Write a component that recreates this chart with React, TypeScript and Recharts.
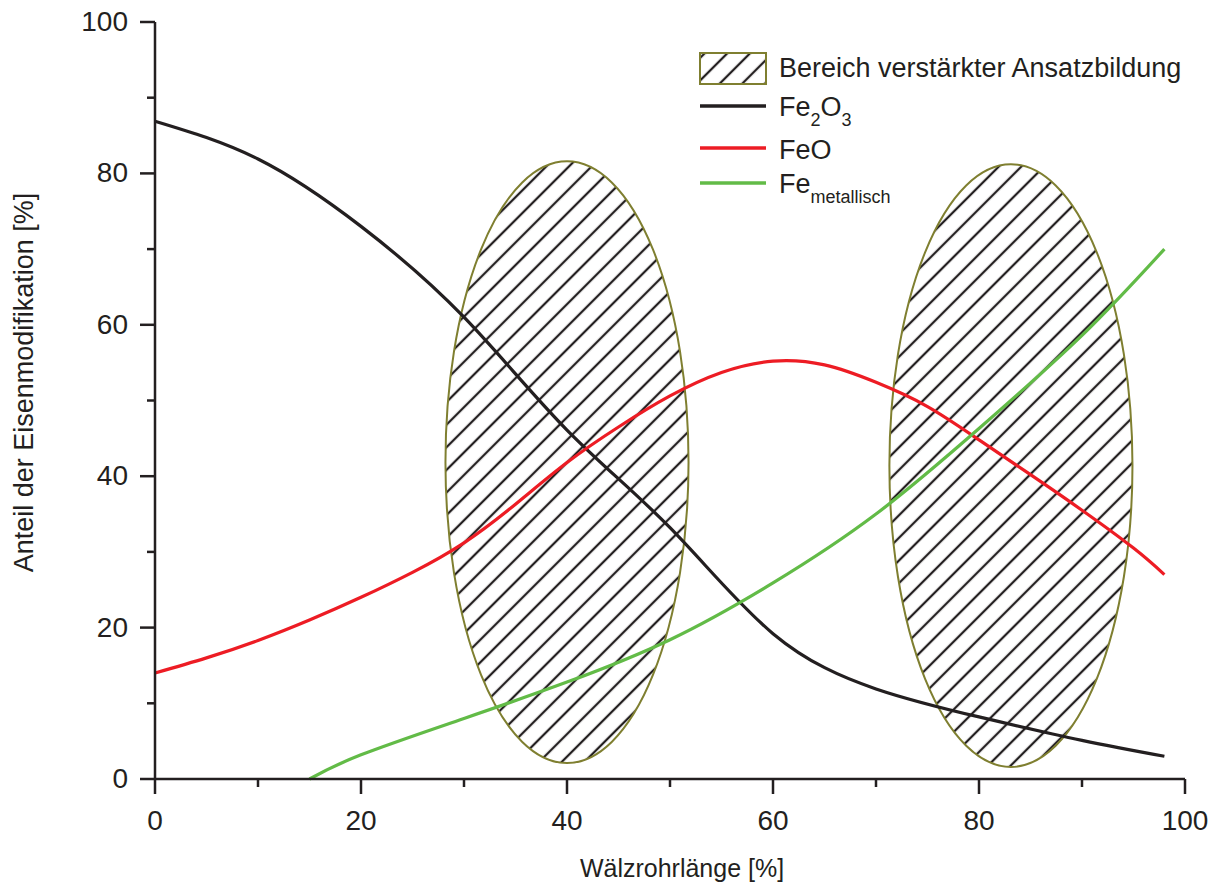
import { Legend, Line, LineChart, ReferenceArea, XAxis, YAxis } from "recharts";

const FONT = '"Liberation Sans", Arial, sans-serif';
const INK = "#231f20";
const OLIVE = "#7f7f30";

const xTicks = [0, 10, 20, 30, 40, 50, 60, 70, 80, 90, 100];
const yTicks = [0, 10, 20, 30, 40, 50, 60, 70, 80, 90, 100];

// Wälzrohrlänge [%]
const oxideLengths = [0, 10, 20, 30, 40, 50, 60, 70, 80, 90, 98];
const fe2o3 = [86.9, 81.9, 73, 61, 46.1, 33.2, 19.2, 11.9, 8.2, 5.1, 3];

const feoLengths = [0, 5, 10, 15, 20, 25, 30, 35, 40, 45, 50, 55, 60, 65, 70, 75, 80, 85, 90, 95, 98];
const feo = [14, 16, 18.3, 21, 24, 27.3, 31.2, 36.3, 41.8, 46.5, 50.6, 53.7, 55.2, 54.7, 52.4, 49.2, 44.8, 40.2, 35.5, 30.5, 27];

const metLengths = [15, 20, 30, 40, 50, 60, 70, 80, 90, 98];
const feMet = [0, 3.2, 8, 12.8, 18.4, 25.9, 35, 46.3, 58.6, 70];

// Bereiche verstärkter Ansatzbildung (in Achsenwerten)
const zones = [
  { id: "a", x1: 28.2, x2: 51.8, y1: 2.1, y2: 81.6 },
  { id: "b", x1: 71.3, x2: 94.9, y1: 1.6, y2: 81.2 },
];

const fe2o3Data = oxideLengths.map((x, i) => ({ x, y: fe2o3[i] }));
const feoData = feoLengths.map((x, i) => ({ x, y: feo[i] }));
const feMetData = metLengths.map((x, i) => ({ x, y: feMet[i] }));

function HatchDefs({ id }: { id: string }) {
  return (
    <defs>
      <pattern id={id} patternUnits="userSpaceOnUse" width={16} height={16} patternTransform="rotate(45)">
        <line x1={8} y1={0} x2={8} y2={16} stroke={INK} strokeWidth={2.3} />
      </pattern>
    </defs>
  );
}

function HatchEllipse(props: any) {
  const { x, y, width, height } = props;
  const pid = `hatch-${props.zoneId}`;
  return (
    <g>
      <HatchDefs id={pid} />
      <ellipse
        cx={x + width / 2}
        cy={y + height / 2}
        rx={width / 2}
        ry={height / 2}
        fill={`url(#${pid})`}
        stroke={OLIVE}
        strokeWidth={2}
      />
    </g>
  );
}

function XTick({ x, y, payload }: any) {
  const major = payload.value % 20 === 0;
  return (
    <g>
      <line x1={x} y1={y} x2={x} y2={y + (major ? 15 : 8)} stroke={INK} strokeWidth={2.5} />
      {major && (
        <text x={x} y={y + 51} textAnchor="middle" fontSize={28} fontFamily={FONT} fill={INK}>
          {payload.value}
        </text>
      )}
    </g>
  );
}

function YTick({ x, y, payload }: any) {
  const major = payload.value % 20 === 0;
  return (
    <g>
      <line x1={x - (major ? 15 : 8)} y1={y} x2={x} y2={y} stroke={INK} strokeWidth={2.5} />
      {major && (
        <text x={x - 27} y={y + 9} textAnchor="end" fontSize={28} fontFamily={FONT} fill={INK}>
          {payload.value}
        </text>
      )}
    </g>
  );
}

function LegendBox() {
  const sub = { fontSize: 18 };
  return (
    <svg width={1218} height={230} style={{ display: "block" }}>
      <HatchDefs id="hatch-legend" />
      <rect x={700} y={53} width={66} height={31} fill="url(#hatch-legend)" stroke={OLIVE} strokeWidth={2} />
      <g fontFamily={FONT} fontSize={27} fill={INK}>
        <text x={779} y={77}>Bereich verstärkter Ansatzbildung</text>
        <text x={779} y={116}>
          Fe<tspan {...sub} dy={10}>2</tspan>
          <tspan dy={-10}>O</tspan>
          <tspan {...sub} dy={10}>3</tspan>
        </text>
        <text x={779} y={159}>FeO</text>
        <text x={779} y={193}>
          Fe<tspan {...sub} dy={10}>metallisch</tspan>
        </text>
      </g>
      <line x1={700} y1={106} x2={766} y2={106} stroke={INK} strokeWidth={3.5} />
      <line x1={700} y1={148} x2={766} y2={148} stroke="#ed1c24" strokeWidth={3.5} />
      <line x1={700} y1={183} x2={766} y2={183} stroke="#62bb47" strokeWidth={3.5} />
    </svg>
  );
}

export default function App() {
  return (
    <div style={{ position: "absolute", left: 0, top: 0, width: 1218, height: 885, background: "#fff" }}>
      <LineChart width={1218} height={885} margin={{ top: 22, right: 33, left: 75, bottom: 6 }}>
        <XAxis
          type="number"
          dataKey="x"
          domain={[0, 100]}
          ticks={xTicks}
          tick={<XTick />}
          tickLine={false}
          tickSize={0}
          tickMargin={0}
          height={100}
          axisLine={{ stroke: INK, strokeWidth: 2.5 }}
          allowDuplicatedCategory={false}
          label={{
            content: ({ viewBox }: any) => (
              <text
                x={viewBox.x + viewBox.width / 2 + 12}
                y={viewBox.y + 98}
                textAnchor="middle"
                fontSize={25}
                fontFamily={FONT}
                fill={INK}
              >
                Wälzrohrlänge [%]
              </text>
            ),
          }}
        />
        <YAxis
          type="number"
          domain={[0, 100]}
          ticks={yTicks}
          tick={<YTick />}
          tickLine={false}
          tickSize={0}
          tickMargin={0}
          width={80}
          axisLine={{ stroke: INK, strokeWidth: 2.5 }}
          label={{
            content: ({ viewBox }: any) => {
              const cy = viewBox.y + viewBox.height / 2 - 18;
              return (
                <text
                  x={33}
                  y={cy}
                  transform={`rotate(-90, 33, ${cy})`}
                  textAnchor="middle"
                  fontSize={27}
                  fontFamily={FONT}
                  fill={INK}
                >
                  Anteil der Eisenmodifikation [%]
                </text>
              );
            },
          }}
        />
        <Line data={fe2o3Data} dataKey="y" type="natural" stroke={INK} strokeWidth={3.2} dot={false} isAnimationActive={false} />
        <Line data={feoData} dataKey="y" type="natural" stroke="#ed1c24" strokeWidth={3.2} dot={false} isAnimationActive={false} />
        <Line data={feMetData} dataKey="y" type="natural" stroke="#62bb47" strokeWidth={3.2} dot={false} isAnimationActive={false} />
        {zones.map((z) => (
          <ReferenceArea
            key={z.id}
            x1={z.x1}
            x2={z.x2}
            y1={z.y1}
            y2={z.y2}
            shape={(p: any) => <HatchEllipse {...p} zoneId={z.id} />}
          />
        ))}
        <Legend
          layout="vertical"
          align="center"
          verticalAlign="middle"
          content={() => <LegendBox />}
          wrapperStyle={{ position: "absolute", left: 0, top: 0, width: 1218, height: 230, pointerEvents: "none" }}
        />
      </LineChart>
    </div>
  );
}
